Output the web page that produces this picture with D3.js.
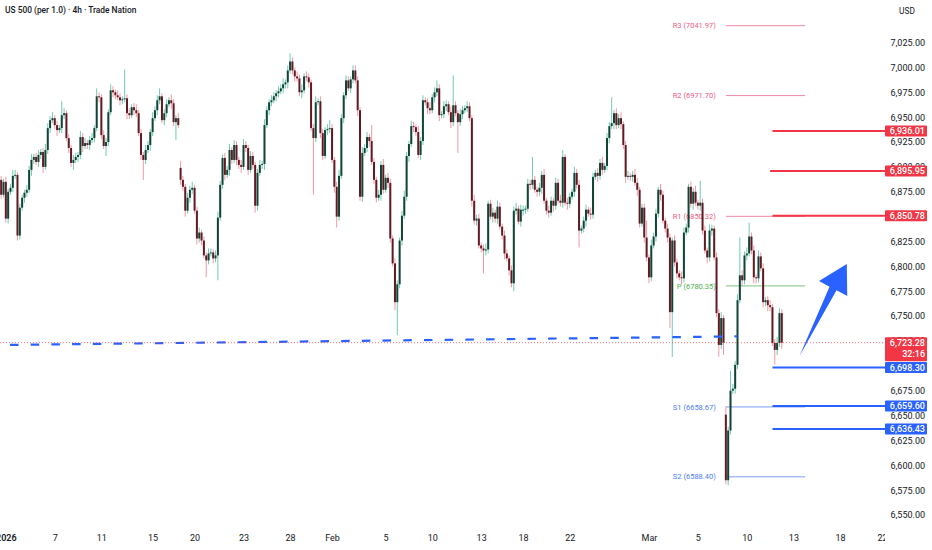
<!DOCTYPE html>
<html lang="en">
<head>
<meta charset="UTF-8">
<title>US 500 4h</title>
<script src="https://d3js.org/d3.v7.min.js"></script>
<style>
  body { margin: 0; background: #fff; }
  svg { display: block; font-family: Roboto, "Noto Sans", sans-serif; }
</style>
</head>
<body>
<svg id="chart" width="932" height="550"></svg>
<script>
// 4h closes, 2 Jan - 12 Mar 2026 (one value per bar)
var closes = [
  6872,6885,6848,6875,6879,6891,6892,6831,6859,6869,
  6874,6877,6897,6907,6910,6905,6912,6915,6900,6917,
  6939,6947,6949,6942,6937,6939,6952,6954,6929,6919,
  6904,6907,6910,6912,6930,6921,6924,6922,6927,6929,
  6939,6971,6970,6932,6921,6925,6955,6977,6975,6972,
  6970,6967,6968,6969,6954,6952,6960,6957,6954,6934,
  6912,6907,6917,6922,6935,6949,6957,6967,6971,6947,
  6954,6963,6967,6964,6945,6949,6942,6887,6880,6856,
  6869,6877,6879,6856,6828,6834,6826,6811,6806,6813,
  6814,6808,6811,6849,6882,6909,6892,6897,6917,6907,
  6922,6907,6902,6900,6922,6919,6897,6911,6902,6861,
  6894,6902,6903,6942,6957,6965,6967,6971,6974,6976,
  6979,6983,6985,6997,7006,6997,6991,6989,6975,6977,
  6991,6990,6985,6939,6929,6965,6966,6934,6911,6937,
  6938,6939,6907,6880,6850,6891,6949,6972,6987,6979,
  6988,6997,6987,6957,6870,6914,6919,6930,6926,6905,
  6887,6869,6872,6902,6877,6889,6884,6828,6803,6764,
  6782,6826,6851,6870,6911,6923,6941,6940,6935,6912,
  6926,6967,6965,6959,6957,6970,6975,6979,6952,6953,
  6961,6963,6955,6945,6962,6954,6945,6953,6957,6959,
  6961,6949,6866,6846,6848,6821,6818,6816,6817,6863,
  6850,6854,6848,6860,6840,6831,6813,6808,6796,6783,
  6856,6858,6845,6857,6857,6858,6883,6882,6887,6877,
  6875,6879,6892,6866,6856,6854,6866,6861,6884,6866,
  6864,6910,6864,6863,6870,6875,6894,6882,6836,6838,
  6846,6857,6853,6852,6890,6894,6891,6904,6897,6901,
  6929,6941,6944,6954,6942,6949,6943,6922,6890,6891,
  6890,6892,6884,6877,6843,6859,6829,6809,6789,6821,
  6830,6853,6877,6872,6846,6838,6829,6754,6826,6804,
  6793,6789,6788,6834,6839,6880,6863,6875,6864,6861,
  6864,6836,6816,6809,6836,6838,6809,6753,6721,6748,
  6723,6585,6635,6675,6677,6701,6766,6791,6786,6811,
  6813,6830,6816,6789,6788,6810,6798,6764,6766,6761,
  6759,6723,6716,6723,6753,6723.28
];
// wick length above / below the body, in points
var upWick = [
  4,3,5,3,4,6,5,3,4,3, 3,5,4,6,3,4,5,3,4,6, 5,4,6,3,4,3,14,5,3,4, 3,5,4,3,6,4,5,3,4,5,
  3,8,4,3,5,4,3,6,4,3, 5,4,3,29,4,5,3,4,6,3, 4,3,5,4,3,6,4,5,8,3, 4,5,3,6,4,3,5,7,4,3,
  5,4,6,3,4,5,3,4,3,5, 4,3,5,6,4,3,5,4,6,3, 5,4,3,5,6,4,3,5,4,3, 4,5,3,6,4,3,5,4,3,5,
  4,6,3,5,8,4,3,5,4,6, 3,5,4,3,4,6,3,5,4,3, 5,8,4,3,5,6,4,3,5,4, 3,5,5,4,3,6,4,5,3,16,
  4,3,5,4,6,3,5,4,3,5, 4,3,5,6,4,3,5,4,3,6, 4,5,3,4,6,3,5,8,4,3, 5,4,3,6,30,4,3,5,4,3,
  5,4,3,6,4,5,3,4,6,3, 4,5,3,6,4,3,5,4,3,5, 4,6,3,5,4,3,5,4,23,4, 3,5,4,6,3,5,4,3,5,4,
  6,7,3,5,4,3,6,4,5,3, 4,5,3,6,4,3,5,4,6,3, 5,4,26,3,5,4,6,3,4,5, 3,4,6,5,3,4,4,17,3,6,
  4,5,3,6,4,3,5,4,3,5, 4,3,6,5,4,3,5,4,6,3, 22,4,5,3,6,4,3,5,4,6, 3,8,4,20,5,4,6,38,5,4,
  6,14,4,5,3,6,4,5,3,4, 5,3,4,6,5,4
];
var dnWick = [
  4,3,4,5,3,4,3,5,4,3, 5,4,3,6,4,3,5,4,6,3, 4,5,3,4,6,3,5,4,3,5, 4,7,3,5,4,6,3,4,5,3,
  4,3,5,4,3,10,4,3,5,4, 3,5,4,3,6,4,3,5,4,3, 5,20,4,3,6,4,3,5,4,3, 5,4,3,6,4,18,3,5,4,6,
  3,5,4,3,6,4,5,3,17,4, 3,5,4,25,3,4,5,3,6,4, 3,5,4,6,3,4,5,3,4,7, 5,3,4,6,3,5,4,3,5,4,
  3,5,4,6,3,4,5,3,4,6, 3,4,5,3,57,4,3,5,4,3, 5,4,3,6,11,4,3,5,4,3, 5,4,3,6,4,5,3,4,6,3,
  4,5,3,6,4,3,5,4,3,8, 33,4,5,3,4,6,3,5,4,3, 5,4,3,6,4,3,5,4,6,3, 4,5,3,6,4,3,31,4,5,3,
  4,3,6,4,5,3,4,23,5,4, 3,6,4,5,3,4,6,3,5,4, 8,4,3,5,6,4,3,5,4,3, 5,4,6,3,4,5,3,6,4,3,
  4,5,3,6,4,3,5,4,17,3, 4,6,3,5,4,3,6,4,5,3, 4,5,3,6,4,3,5,4,6,3, 4,5,3,6,4,3,5,4,6,4,
  3,5,4,6,3,4,5,16,45,4, 5,3,6,4,3,5,4,6,3,4, 5,4,3,6,4,5,3,4,12,4, 12,4,5,4,3,5,4,3,6,4,
  5,3,4,6,5,4,3,5,4,6, 4,3,15,5,4,6
];
// bars that open away from the previous close (session gaps)
var gapOpens = {0: 6887, 77: 6899, 311: 6651};

var yTicks = [6550, 6575, 6600, 6625, 6650, 6675, 6700, 6725, 6750, 6775, 6800,
              6825, 6850, 6875, 6900, 6925, 6950, 6975, 7000, 7025];
var timeTickBars = [2, 23, 43, 65, 83, 104, 124, 142, 165, 185, 206, 224, 244, 278, 299, 320, 340, 360, 378];
var timeTickLabels = ["2026", "7", "11", "15", "20", "23", "28", "Feb", "5", "10", "13", "18", "22",
                      "Mar", "5", "10", "13", "18", "22"];

// weekly pivots
var pivotNames = ["R3", "R2", "R1", "P", "S1", "S2"];
var pivotValues = [7041.97, 6971.70, 6850.32, 6780.35, 6658.67, 6588.40];
var pivotStart = 311, pivotEnd = 345;

// drawn horizontal levels
var resistLevels = [6936.01, 6895.95, 6850.78];
var resistStart = [331, 330, 331];
var supportLevels = [6698.30, 6659.60, 6636.43];
var supportStart = [331, 331, 331];

var lastPrice = 6723.28;
var countdown = "32:16";

// dashed trend line anchors (bar, price)
var trendBars = [-0.5, 316];
var trendPrices = [6720.9, 6729.6];

// arrow outline (bar, price): tail, shaft left, wing left, tip, wing right, shaft right
var arrowBars = [342.6, 355.5, 351, 362.9, 363.1, 358.5];
var arrowPrices = [6710, 6779.5, 6785.3, 6802.4, 6770.2, 6775.9];

var W = 932, H = 550;
var plotRight = 885, plotBottom = 523;

var upBody = "#0f4436", upWickCol = "#72c9b3";
var dnBody = "#621a22", dnWickCol = "#f199a4";
var red = "#f23645", blue = "#2962ff", ink = "#131722";

var svg = d3.select("#chart");
svg.append("rect").attr("width", W).attr("height", H).attr("fill", "#fff");

var x = d3.scaleLinear().domain([-0.5, 379.3]).range([0, plotRight]);
var y = d3.scaleLinear().domain([6542, 7067.8]).range([plotBottom, 0]);

var bars = closes.map(function(c, i) {
    var o = (i in gapOpens) ? gapOpens[i] : closes[i - 1];
    return {i: i, o: o, c: c,
            h: Math.max(o, c) + upWick[i],
            l: Math.min(o, c) - dnWick[i]};
});

var defs = svg.append("defs");
defs.append("clipPath").attr("id", "plotClip")
    .append("rect").attr("width", plotRight).attr("height", plotBottom);
defs.append("clipPath").attr("id", "timeClip")
    .append("rect").attr("width", plotRight).attr("height", H);

var plot = svg.append("g").attr("clip-path", "url(#plotClip)");

// pivot lines + labels (under the candles)
var pivotColor = function(name) {
    if (name[0] === "R") return {line: "#f088a4", text: "#ec5b84"};
    if (name[0] === "P") return {line: "#7cc47f", text: "#4caf50"};
    return {line: "#7a9cf3", text: "#4f7df0"};
};
var piv = plot.selectAll(".pivot").data(pivotValues).enter().append("g").attr("class", "pivot");
piv.append("line")
    .attr("x1", x(pivotStart)).attr("x2", x(pivotEnd))
    .attr("y1", function(d) { return y(d); }).attr("y2", function(d) { return y(d); })
    .attr("stroke", function(d, i) { return pivotColor(pivotNames[i]).line; })
    .attr("stroke-width", 1);
piv.append("text")
    .attr("x", x(pivotStart) - 10)
    .attr("y", function(d) { return y(d); })
    .attr("dy", "0.35em")
    .attr("text-anchor", "end")
    .attr("font-size", "7.5px")
    .attr("fill", function(d, i) { return pivotColor(pivotNames[i]).text; })
    .text(function(d, i) { return pivotNames[i] + " (" + d.toFixed(2) + ")"; });

// candles
var candle = plot.selectAll(".bar").data(bars).enter().append("g").attr("class", "bar");
candle.append("line")
    .attr("x1", function(d) { return x(d.i); }).attr("x2", function(d) { return x(d.i); })
    .attr("y1", function(d) { return y(d.h); }).attr("y2", function(d) { return y(d.l); })
    .attr("stroke", function(d) { return d.c >= d.o ? upWickCol : dnWickCol; })
    .attr("stroke-width", 1);
candle.append("rect")
    .attr("x", function(d) { return x(d.i) - 1; })
    .attr("width", 2)
    .attr("y", function(d) { return y(Math.max(d.o, d.c)); })
    .attr("height", function(d) { return Math.max(1, Math.abs(y(d.o) - y(d.c))); })
    .attr("fill", function(d) { return d.c >= d.o ? upBody : dnBody; });

// dashed trend line
plot.append("line")
    .attr("x1", x(trendBars[0])).attr("y1", y(trendPrices[0]))
    .attr("x2", x(trendBars[1])).attr("y2", y(trendPrices[1]))
    .attr("stroke", blue).attr("stroke-width", 2.2)
    .attr("stroke-dasharray", "8.5,12.2").attr("stroke-dashoffset", 10.7);

// last price dotted line
plot.append("line")
    .attr("x1", 0).attr("x2", plotRight)
    .attr("y1", y(lastPrice)).attr("y2", y(lastPrice))
    .attr("stroke", red).attr("stroke-opacity", 0.7)
    .attr("stroke-width", 1).attr("stroke-dasharray", "1,2");

// horizontal levels
plot.selectAll(".res").data(resistLevels).enter().append("line")
    .attr("x1", function(d, i) { return x(resistStart[i]); }).attr("x2", plotRight)
    .attr("y1", function(d) { return y(d); }).attr("y2", function(d) { return y(d); })
    .attr("stroke", red).attr("stroke-width", 2);
plot.selectAll(".sup").data(supportLevels).enter().append("line")
    .attr("x1", function(d, i) { return x(supportStart[i]); }).attr("x2", plotRight)
    .attr("y1", function(d) { return y(d); }).attr("y2", function(d) { return y(d); })
    .attr("stroke", blue).attr("stroke-width", 2);

// arrow
plot.append("path")
    .attr("d", d3.line()(arrowBars.map(function(b, i) { return [x(b), y(arrowPrices[i])]; })) + "Z")
    .attr("fill", blue);

// price scale
var yAxis = svg.append("g")
    .attr("transform", "translate(888,0)")
    .call(d3.axisRight(y).tickValues(yTicks).tickFormat(d3.format(",.2f")).tickSize(0).tickPadding(37));
yAxis.select(".domain").remove();
yAxis.selectAll("text")
    .attr("text-anchor", "end")
    .attr("font-size", "9px")
    .attr("font-family", "Roboto, sans-serif")
    .attr("fill", ink);

// level tags on the scale
function tag(price, color, extra) {
    var h = extra ? 24 : 11;
    var g = svg.append("g").attr("transform", "translate(885," + (y(price) - 5.5) + ")");
    g.append("rect").attr("width", 42).attr("height", h).attr("rx", 1).attr("fill", color);
    g.append("text").attr("x", 40).attr("y", 8.6).attr("text-anchor", "end")
        .attr("font-size", "9px").attr("font-weight", 500).attr("fill", "#fff")
        .text(d3.format(",.2f")(price));
    if (extra) {
        g.append("text").attr("x", 40).attr("y", 19.4).attr("text-anchor", "end")
            .attr("font-size", "9px").attr("font-weight", 500).attr("fill", "#fff").text(extra);
    }
}
resistLevels.forEach(function(p) { tag(p, red); });
supportLevels.forEach(function(p) { tag(p, blue); });
tag(lastPrice, red, countdown);

// time scale
var xAxis = svg.append("g")
    .attr("clip-path", "url(#timeClip)")
    .append("g")
    .attr("transform", "translate(0,532)")
    .call(d3.axisBottom(x).tickValues(timeTickBars)
        .tickFormat(function(d, i) { return timeTickLabels[i]; })
        .tickSize(0).tickPadding(3));
xAxis.select(".domain").remove();
xAxis.selectAll("text")
    .attr("font-size", "9px")
    .attr("font-family", "Roboto, sans-serif")
    .attr("fill", ink)
    .attr("font-weight", function(d, i) { return timeTickLabels[i] === "2026" ? 600 : 400; });

// header
svg.append("text").attr("x", 5).attr("y", 13.3)
    .attr("font-size", "8.4px").attr("font-weight", 500).attr("fill", ink)
    .text("US 500 (per 1.0) \u00b7 4h \u00b7 Trade Nation");
svg.append("text").attr("x", 907).attr("y", 14)
    .attr("text-anchor", "middle").attr("font-size", "8.4px").attr("fill", ink)
    .text("USD");
</script>
</body>
</html>
